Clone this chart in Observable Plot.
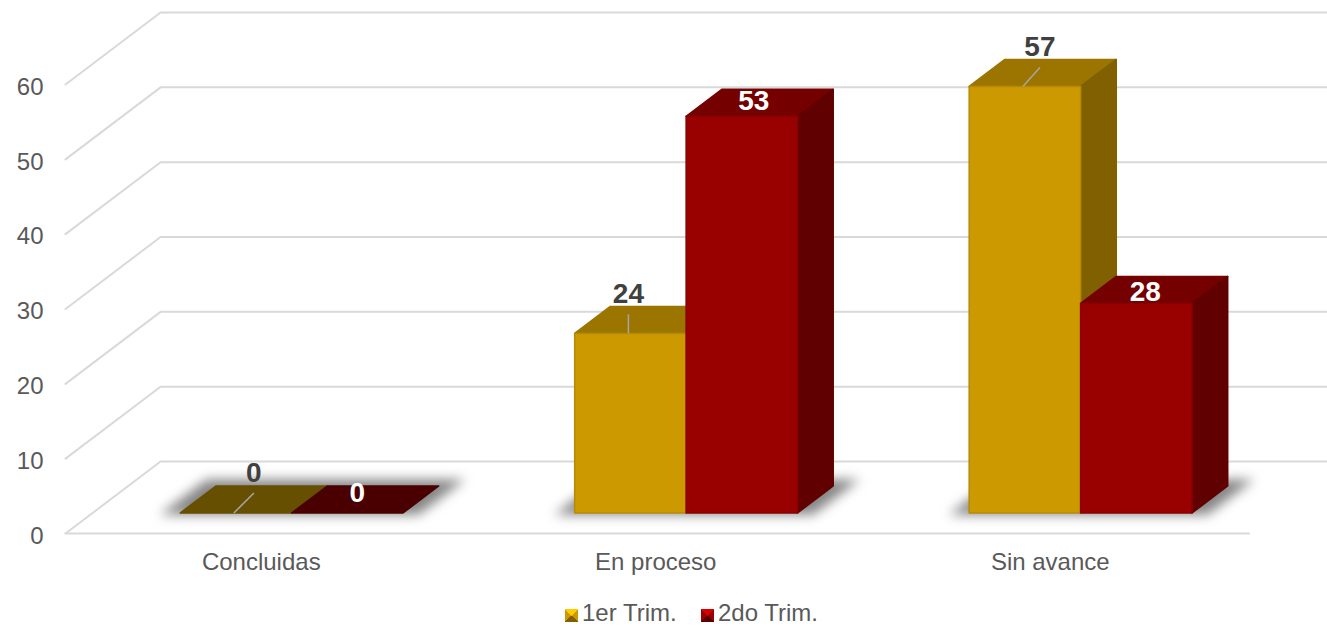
<!DOCTYPE html>
<html lang="es">
<head>
<meta charset="utf-8">
<script src="https://cdn.jsdelivr.net/npm/d3@7"></script>
<script src="https://cdn.jsdelivr.net/npm/@observablehq/plot@0.6"></script>
<style>
html,body{margin:0;padding:0;background:#fff;overflow:hidden;}
svg{display:block;overflow:hidden;}
#legend{position:relative;height:27px;font:24px "Liberation Sans",Arial,sans-serif;color:#595959;}
#legend span{position:absolute;top:3px;line-height:20px;height:20px;white-space:nowrap;}
#legend i{position:absolute;top:9px;width:13px;height:13px;display:block;}
</style>
</head>
<body>
<div id="chart"></div>
<div id="legend"></div>
<script>
const categories = ["Concluidas", "En proceso", "Sin avance"];
const seriesNames = ["1er Trim.", "2do Trim."];
const trim1 = [0, 24, 57];
const trim2 = [0, 53, 28];
const yTicks = [0, 10, 20, 30, 40, 50, 60];

// Oblique 3D projection, expressed in scale units
const wallDX = 0.241, wallDY = 9.62;
const barFront = 0.285, barBack = 0.66, barW = 0.2825, barShift = 0.0045;
const pxX = 1 / 394.5, pxY = 1 / 7.483;
const fills = [
  {front: "#cc9900", edge: "#b58a06", top: "#9c7500", side: "#806000", flat: "#664f00"},
  {front: "#990000", edge: "#8a0000", top: "#750000", side: "#600000", flat: "#4a0000"}
];
// Label nudges from each bar's front-top centre: [px right, px down]
const labelNudge = [
  [[18, -40], [-2, -39], [15, -39]],
  [[10, -19.5], [12, -15], [9, -11]]
];

const P = (c, v, d) => ({x: c + wallDX * d, y: v + wallDY * d});

const grid = [];
yTicks.forEach(t => {
  [[0, 0], [0, 1], [3, 1]].forEach(([c, d]) => grid.push({...P(c, t, d), t: "w" + t}));
});
[[0, 0], [3, 0]].forEach(([c, d]) => grid.push({...P(c, 0, d), t: "floor"}));

const faces = [], shadows = [], labels = [], leaders = [];
const poly = (list, id, fill, stroke, pts) =>
  [...pts, pts[0]].forEach(p => list.push({...p, id, fill, stroke}));

categories.forEach((name, i) => {
  const c0 = i + 0.5 - barW + barShift;
  poly(shadows, "s" + i, "#666", "none", [
    P(c0 - 0.045, 0, 0.26), P(c0 + 2 * barW + 0.045, 0, 0.26),
    P(c0 + 2 * barW + 0.045, 0, 0.75), P(c0 - 0.045, 0, 0.75)
  ]);
});
[trim1, trim2].forEach((vals, s) => {
  const f = fills[s];
  vals.forEach((v, i) => {
    const l = i + 0.5 - barW + barShift + s * barW, r = l + barW, id = `b${s}-${i}`;
    poly(faces, id + "top", v === 0 ? f.flat : f.top, v === 0 ? f.flat : f.top, [
      P(l, v, barFront), P(r, v, barFront), P(r, v, barBack), P(l, v, barBack)
    ]);
    if (v > 0) {
      poly(faces, id + "side", f.side, f.side, [
        P(r, 0, barFront), P(r, 0, barBack), P(r, v, barBack), P(r, v, barFront)
      ]);
      poly(faces, id + "front", f.front, f.edge, [
        P(l, 0, barFront), P(r, 0, barFront), P(r, v, barFront), P(l, v, barFront)
      ]);
    }
  });
});
[trim1, trim2].forEach((vals, s) => {
  vals.forEach((v, i) => {
    const l = i + 0.5 - barW + barShift + s * barW;
    const a = P(l + barW / 2, v, barFront);
    const [nx, ny] = labelNudge[s][i];
    labels.push({x: a.x + nx * pxX, y: a.y - ny * pxY, text: String(v), fill: s ? "#ffffff" : "#404040"});
    if (s === 0) leaders.push({x1: a.x - 2 * pxX, y1: a.y, x2: a.x + nx * pxX, y2: a.y - (ny + 20) * pxY});
  });
});

const chart = Plot.plot({
  width: 1327,
  height: 600,
  marginLeft: 65,
  marginRight: 78.5,
  marginTop: 84,
  marginBottom: 67,
  style: {fontFamily: '"Liberation Sans", Arial, sans-serif', background: "transparent"},
  x: {domain: [0, 3]},
  y: {domain: [0, 60]},
  marks: [
    Plot.line(grid, {x: "x", y: "y", z: "t", stroke: "#d9d9d9", strokeWidth: 2, curve: "linear"}),
    Plot.line(shadows, {x: "x", y: "y", z: "id", fill: "fill", stroke: "none", fillOpacity: 0.8, imageFilter: "blur(6px)", curve: "linear"}),
    Plot.line(faces, {x: "x", y: "y", z: "id", fill: "fill", stroke: "stroke", strokeWidth: 1.5, strokeLinejoin: "round", curve: "linear"}),
    Plot.link(leaders, {x1: "x1", y1: "y1", x2: "x2", y2: "y2", stroke: "#a6a6a6", strokeWidth: 1.5}),
    Plot.text(labels, {x: "x", y: "y", text: "text", fill: "fill", fontSize: 28, fontWeight: "bold"}),
    Plot.axisY({ticks: yTicks, tickSize: 0, tickPadding: 22, dy: 2.5, fontSize: 24, label: null, fill: "#595959"}),
    Plot.axisX({ticks: [0.5, 1.5, 2.5], tickFormat: v => categories[Math.floor(v)], tickSize: 0, tickPadding: 19, dx: -1.5, fontSize: 24, fill: "#595959", label: null})
  ]
});
document.getElementById("chart").append(chart);

const legend = document.getElementById("legend");
const swatches = [
  {x: 565, t: 582, g: ["#ffcc00", "#cc9900", "#806000"]},
  {x: 701, t: 718, g: ["#d60000", "#990000", "#5c0000"]}
];
swatches.forEach((s, i) => {
  const box = document.createElement("i");
  box.style.left = s.x + "px";
  box.style.background = `conic-gradient(${s.g[0]} 0 45deg, ${s.g[1]} 45deg 135deg, ${s.g[2]} 135deg 225deg, ${s.g[1]} 225deg 315deg, ${s.g[0]} 315deg)`;
  const txt = document.createElement("span");
  txt.style.left = s.t + "px";
  txt.textContent = seriesNames[i];
  legend.append(box, txt);
});
</script>
</body>
</html>
